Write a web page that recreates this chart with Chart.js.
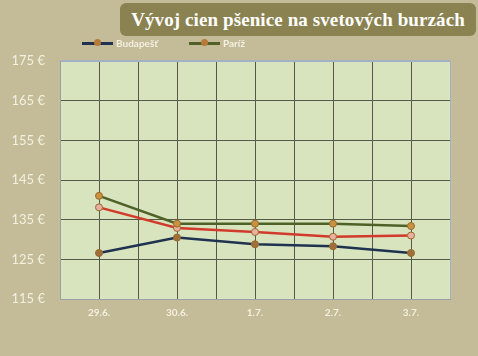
<!DOCTYPE html>
<html>
<head>
<meta charset="utf-8">
<script src="https://cdn.jsdelivr.net/npm/chart.js@4"></script>
<style>
	html, body { margin: 0; padding: 0; }
	body { width: 478px; height: 356px; background: #c4bb98; position: relative; overflow: hidden; font-family: Lato, 'Open Sans', sans-serif; }
	#wrap { position: absolute; left: 0; top: 0; width: 478px; height: 356px; }
	#title { position: absolute; left: 120px; top: 3px; width: 356px; height: 33px; background: #8a8250; border-radius: 6px;
		color: #fff; font: bold 19px 'Liberation Serif', serif; line-height: 33px; text-align: center; letter-spacing: 0.1px; }
	.leg { position: absolute; top: 37px; height: 12px; font: bold 10px Lato, sans-serif; color: #f4f0e0; line-height: 12px; }
	.leg i { display: inline-block; position: relative; width: 31px; height: 3px; vertical-align: middle; margin-right: 3px; margin-top: -2px; }
	.leg i b { position: absolute; left: 12px; top: -2.5px; width: 7px; height: 7px; border-radius: 50%; background: #b87a38; }
</style>
</head>
<body>
<div id="wrap"><canvas id="chart" width="478" height="356"></canvas></div>
<div id="title">Vývoj cien pšenice na svetových burzách</div>
<div class="leg" style="left:82px"><i style="background:#1f3350"><b></b></i>Budapešť</div>
<div class="leg" style="left:189px"><i style="background:#4f6128"><b></b></i>Paríž</div>
<script>
const days = ['29.6.', '30.6.', '1.7.', '2.7.', '3.7.'];
const budapest = [126.6, 130.5, 128.8, 128.3, 126.6];
const pariz = [141.0, 134.0, 134.0, 134.0, 133.4];
const third = [138.1, 132.9, 131.9, 130.7, 131.0];
const yTicks = [115, 125, 135, 145, 155, 165, 175];

const pts = arr => arr.map((v, i) => ({ x: i, y: v }));

const plotBg = {
	id: 'plotBg',
	beforeDraw(chart) {
		const { ctx, chartArea: a } = chart;
		ctx.save();
		ctx.fillStyle = '#d8e4bd';
		ctx.fillRect(a.left, a.top, a.right - a.left, a.bottom - a.top);
		ctx.restore();
	}
};

const series = (label, data, color, pointColor) => ({
	label, data: pts(data),
	borderColor: color, borderWidth: 2.5,
	pointBackgroundColor: pointColor, pointBorderColor: '#9a6a30', pointBorderWidth: 1,
	pointRadius: 3.5, tension: 0
});

new Chart(document.getElementById('chart'), {
	type: 'line',
	data: {
		datasets: [
			series('Budapešť', budapest, '#1f3350', '#a0703a'),
			series('Paríž', pariz, '#4f6128', '#c8923e'),
			series('', third, '#d23a2c', '#e8b0a0')
		]
	},
	options: {
		responsive: false,
		animation: false,
		layout: { padding: { left: 0, right: 28, top: 61, bottom: 0 } },
		plugins: { legend: { display: false }, tooltip: { enabled: false } },
		scales: {
			x: {
				type: 'linear', min: -0.5, max: 4.5,
				afterFit: s => { s.height = 57; },
				afterBuildTicks: s => { s.ticks = []; for (let v = -0.5; v <= 4.5; v += 0.5) s.ticks.push({ value: v }); },
				ticks: {
					padding: 8, color: '#f4f0e0', font: { family: 'Lato', size: 10, weight: 'bold' },
					maxRotation: 0, autoSkip: false,
					callback: v => Number.isInteger(v) ? days[v] : ''
				},
				grid: {
					drawTicks: false,
					color: c => c.tick && c.tick.value === 4.5 ? '#a4b0c4' : '#55594a',
					lineWidth: 1
				},
				border: { color: '#9aa0a8', width: 1 }
			},
			y: {
				min: 115, max: 175,
				afterFit: s => { s.width = 60; },
				afterBuildTicks: s => { s.ticks = yTicks.map(v => ({ value: v })); },
				ticks: {
					padding: 15, color: '#f4f0e0', font: { family: 'Lato', size: 13 },
					callback: v => v + ' €'
				},
				grid: {
					drawTicks: false,
					color: c => c.tick && c.tick.value === 175 ? '#a4b0c4' : '#55594a',
					lineWidth: c => c.tick && c.tick.value === 175 ? 2 : 1
				},
				border: { color: '#9aa0a8', width: 1 }
			}
		}
	},
	plugins: [plotBg]
});
</script>
</body>
</html>
